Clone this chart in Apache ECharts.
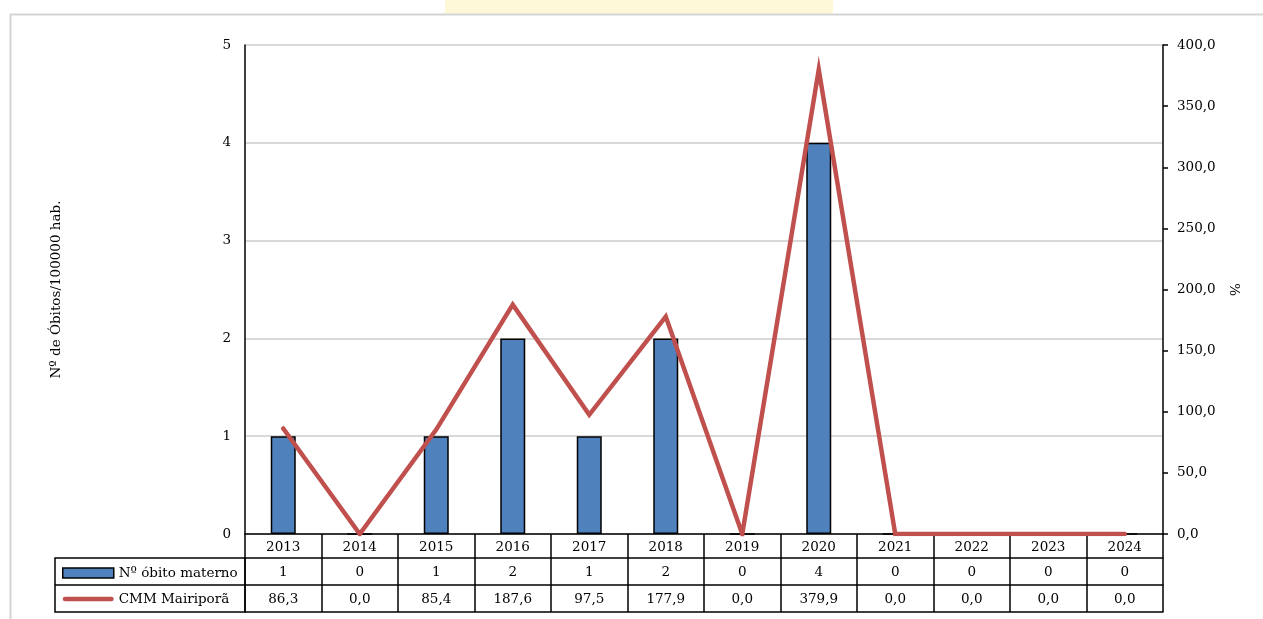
<!DOCTYPE html>
<html><head><meta charset="utf-8">
<script src="https://cdn.jsdelivr.net/npm/echarts@6/dist/echarts.min.js"></script>
<style>html,body{margin:0;padding:0;background:#fff}#c{width:1263px;height:619px}</style>
</head><body><div id="c"></div>
<script>
const years = ['2013','2014','2015','2016','2017','2018','2019','2020','2021','2022','2023','2024'];
const obitos = [1,0,1,2,1,2,0,4,0,0,0,0];
const cmm = [86.3,0.0,85.4,187.6,97.5,177.9,0.0,379.9,0.0,0.0,0.0,0.0];
const leftTicks = [0,1,2,3,4,5];
const FONT = 'DejaVu Serif';
const FS = 13.5;
const fmt1 = v => v.toFixed(1).replace('.', ',');

const chart = echarts.init(document.getElementById('c'));
const G = {left: 245, right: 100, top: 45, bottom: 85, containLabel: false};
function tableAxis(gridIndex, offset, tickLen, margin, formatter) {
  return {
    type: 'category', data: years, position: 'bottom', gridIndex: gridIndex, offset: offset,
    axisLine: {show: true, onZero: false, lineStyle: {color: '#000', width: 1.5}},
    axisTick: {show: tickLen > 0, length: tickLen, interval: 0, alignWithLabel: false, lineStyle: {color: '#000', width: 1.5}},
    splitLine: {show: false},
    axisLabel: {show: !!formatter, interval: 0, margin: margin, color: '#000', fontFamily: FONT, fontSize: FS,
      formatter: formatter || undefined}
  };
}
function hiddenY(gridIndex) {
  return {type: 'value', gridIndex: gridIndex, show: false, min: 0, max: 1, splitLine: {show: false}};
}
chart.setOption({
  animation: false,
  backgroundColor: '#fff',
  textStyle: {fontFamily: FONT},
  grid: [G, Object.assign({}, G), Object.assign({}, G), Object.assign({}, G)],
  legend: {
    orient: 'vertical', left: 57, top: 561, itemGap: 12,
    itemWidth: 51, itemHeight: 10,
    textStyle: {fontFamily: FONT, fontSize: FS, color: '#000', padding: [0,0,0,0]},
    data: [
      {name: 'Nº óbito materno', icon: 'rect', itemStyle: {color: '#4f81bd', borderColor: '#000', borderWidth: 1.5}},
      {name: 'CMM Mairiporã', icon: 'path://M2.5,0 L53.5,0 A2.5,2.5 0 0 1 53.5,5 L2.5,5 A2.5,2.5 0 0 1 2.5,0 Z',
        itemStyle: {color: '#c0504d', borderWidth: 0}}
    ]
  },
  xAxis: [
    tableAxis(0, 0, 24, 6, v => v),
    tableAxis(1, 24, 27, 7, (v, i) => String(obitos[i])),
    tableAxis(2, 51, 27, 7, (v, i) => fmt1(cmm[i])),
    tableAxis(3, 78, 0, 0, null)
  ],
  yAxis: [
    {
      type: 'value', gridIndex: 0, min: 0, max: 5, interval: 1, position: 'left',
      name: 'Nº de Óbitos/100000 hab.', nameLocation: 'middle', nameGap: 182, nameRotate: 90,
      nameTextStyle: {fontFamily: FONT, fontSize: FS, color: '#000'},
      axisLine: {show: true, lineStyle: {color: '#000', width: 1.5}},
      axisTick: {show: false},
      axisLabel: {color: '#000', fontFamily: FONT, fontSize: FS, margin: 14,
        formatter: v => leftTicks.includes(v) ? String(v) : ''},
      splitLine: {show: true, lineStyle: {color: '#d9d9d9', width: 2}}
    },
    {
      type: 'value', gridIndex: 0, min: 0, max: 400, interval: 50, position: 'right',
      name: '%', nameLocation: 'middle', nameGap: 66, nameRotate: 90,
      nameTextStyle: {fontFamily: FONT, fontSize: FS, color: '#000'},
      axisLine: {show: true, lineStyle: {color: '#000', width: 1.5}},
      axisTick: {show: true, length: 5, lineStyle: {color: '#000', width: 1.5}},
      axisLabel: {color: '#000', fontFamily: FONT, fontSize: FS, margin: 14, formatter: v => fmt1(v)},
      splitLine: {show: false}
    },
    hiddenY(1), hiddenY(2), hiddenY(3)
  ],
  series: [
    {
      name: 'Nº óbito materno', type: 'bar', xAxisIndex: 0, yAxisIndex: 0, data: obitos,
      barWidth: 25,
      itemStyle: {color: '#4f81bd', borderColor: '#000', borderWidth: 1.5}
    },
    {
      name: 'CMM Mairiporã', type: 'line', xAxisIndex: 0, yAxisIndex: 1, data: cmm,
      symbol: 'none', z: 5,
      lineStyle: {color: '#c0504d', width: 4.5, cap: 'round', join: 'miter'},
      itemStyle: {color: '#c0504d'}
    }
  ],
  graphic: [
    {type: 'rect', shape: {x: 445, y: 0, width: 388, height: 14}, style: {fill: '#fff8d8'}, silent: true},
    {type: 'line', shape: {x1: 10, y1: 14.5, x2: 1263, y2: 14.5}, style: {stroke: '#d4d4d4', lineWidth: 2}, silent: true},
    {type: 'line', shape: {x1: 10.5, y1: 14, x2: 10.5, y2: 619}, style: {stroke: '#d4d4d4', lineWidth: 2}, silent: true},
    {type: 'rect', shape: {x: 55, y: 558, width: 190, height: 54}, style: {fill: 'none', stroke: '#000', lineWidth: 1.5}, silent: true},
    {type: 'line', shape: {x1: 55, y1: 585, x2: 245, y2: 585}, style: {stroke: '#000', lineWidth: 1.5}, silent: true}
  ]
});
</script></body></html>
